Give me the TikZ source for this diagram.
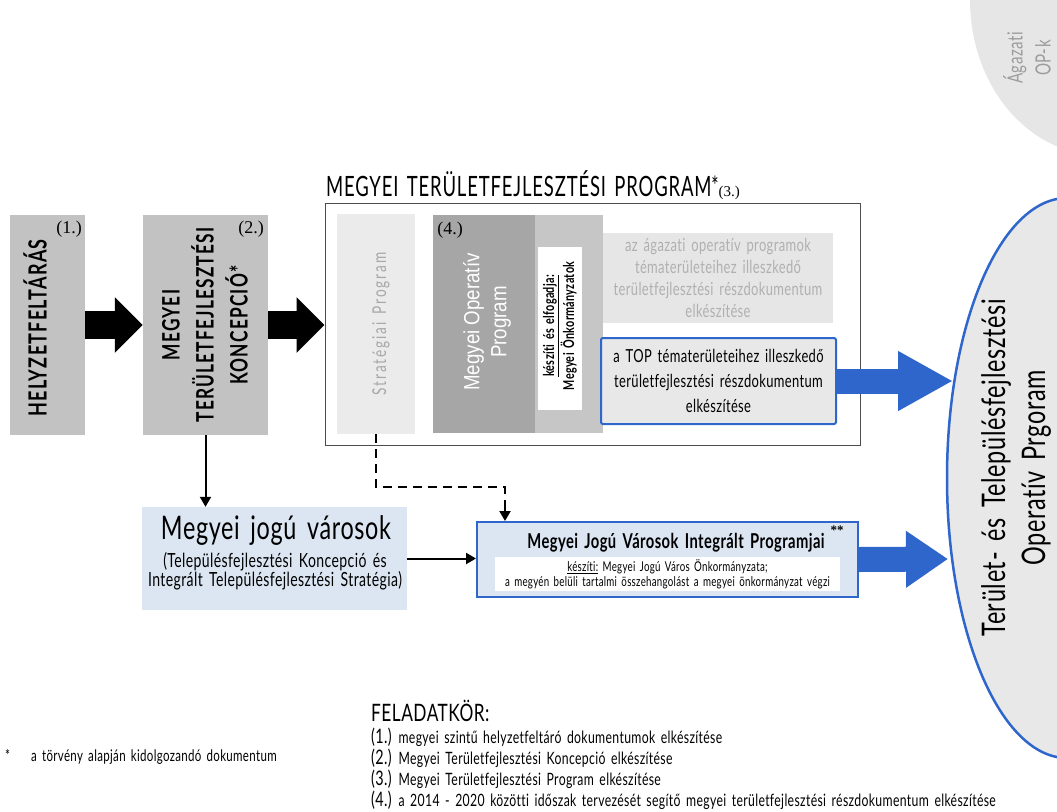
\documentclass[tikz,border=0pt]{standalone}
\usepackage{fontspec}
\usetikzlibrary{arrows.meta,shapes.geometric}
\setmainfont{Liberation Serif}
\newfontfamily\cf[FakeStretch=0.72,LetterSpace=2,WordSpace=1.6,Ligatures=NoCommon]{Lato}
\newfontfamily\cfa[FakeStretch=0.72,LetterSpace=10,WordSpace=1.4,Ligatures=NoCommon]{Lato}
\newfontfamily\cfb[FakeStretch=0.72,LetterSpace=5,Ligatures=NoCommon]{Lato}
\newfontfamily\cft[FakeStretch=0.66,LetterSpace=3,WordSpace=1.5,Ligatures=NoCommon]{Lato}
\newfontfamily\arialn[FakeStretch=0.85]{Liberation Sans}
\definecolor{boxgray}{HTML}{C2C2C2}
\definecolor{stratgray}{HTML}{EBEBEB}
\definecolor{strattext}{HTML}{A8A8A8}
\definecolor{optext}{HTML}{9C9C9C}
\definecolor{mopgray}{HTML}{A6A6A6}
\definecolor{stripgray}{HTML}{C6C6C6}
\definecolor{aggray}{HTML}{E6E6E6}
\definecolor{agtext}{HTML}{B0B0B0}
\definecolor{topfill}{HTML}{E8E8E8}
\definecolor{myblue}{HTML}{2F66CC}
\definecolor{lightblue}{HTML}{DCE6F2}
\definecolor{ellfill}{HTML}{E8E8E8}
\begin{document}
\begin{tikzpicture}[x=1pt,y=-1pt,
  blockarrow/.style={line width=28pt,-{Triangle[length=28pt,width=54pt]}},
  bluearrow/.style={myblue,line width=25pt},
  thinarrow/.style={line width=2pt,-{Triangle[length=10pt,width=11pt]}},
  rtext/.style={rotate=90,align=center,inner sep=0pt},
  listline/.style={anchor=base west,inner sep=0pt,font={\cf\fontsize{17}{19}\selectfont}}
]
\useasboundingbox (0,0) rectangle (1057,811);

% Agazati OP-k shape (top right)
\begin{scope}
\clip (0,0) rectangle (1057,811);
\fill[aggray] (1100,0) ellipse [x radius=130, y radius=155];
\end{scope}
\node[rtext,text=optext,font={\cf\fontsize{21}{28}\selectfont}] (agop) at (1027,58) {Ágazati\\OP-k};

% Box 1
\node[fill=boxgray,inner sep=0pt,minimum width=75pt,minimum height=220pt] (b1) at (47.5,325) {};
\node[rtext,font={\cfb\bfseries\fontsize{25}{34}\selectfont}] (b1t) at (35,328) {HELYZETFELTÁRÁS};
\node[font={\fontsize{18}{20}\selectfont}] (b1n) at (69,229) {(1.)};

% Box 2
\node[fill=boxgray,inner sep=0pt,minimum width=125pt,minimum height=220pt] (b2) at (205.5,325) {};
\node[rtext,font={\cfb\bfseries\fontsize{24}{34}\selectfont}] (b2t) at (205,325) {MEGYEI\\TERÜLETFEJLESZTÉSI\\KONCEPCIÓ*};
\node[font={\fontsize{18}{20}\selectfont}] (b2n) at (251,229) {(2.)};

% Big program box
\node[draw=black!70,line width=1pt,inner sep=0pt,minimum width=535pt,minimum height=242pt] (prog) at (592.5,324) {};
\node[anchor=base west,inner sep=0pt,font={\cft\fontsize{28}{30}\selectfont}] (progt) at (326,196) {MEGYEI TERÜLETFEJLESZTÉSI PROGRAM\raisebox{1pt}{\fontsize{26}{26}\selectfont*}{\rmfamily\fontsize{15}{15}\selectfont(3.)}};

% Strategiai Program
\node[fill=stratgray,inner sep=0pt,minimum width=78pt,minimum height=220pt] (strat) at (376,324) {};
\node[rtext,text=strattext,font={\cfa\fontsize{19}{20}\selectfont}] (stratt) at (381,324) {Stratégiai Program};

% Megyei Operativ Program
\node[fill=mopgray,inner sep=0pt,minimum width=102pt,minimum height=218pt] (mop) at (484,324) {};
\node[rtext,text=white,font={\arialn\fontsize{22}{27}\selectfont}] (mopt) at (487,322) {Megyei Operatív\\Program};
\node[font={\fontsize{18}{20}\selectfont}] (mopn) at (450,230) {(4.)};

% strip with kesziti
\node[fill=stripgray,inner sep=0pt,minimum width=68pt,minimum height=218pt] (strip) at (569,324) {};
\node[fill=white,inner sep=0pt,minimum width=44pt,minimum height=163pt] (kesz) at (560,328.5) {};
\node[rtext,font={\cf\bfseries\fontsize{15}{20}\selectfont}] (keszt) at (560,326) {\underline{készíti és elfogadja:}\\Megyei Önkormányzatok};

% agazati operativ programok box
\node[fill=aggray,inner sep=0pt,minimum width=230pt,minimum height=90pt] (agb) at (718,278) {};
\node[align=center,text=agtext,font={\cf\fontsize{18}{22}\selectfont}] (agbt) at (718,278) {az ágazati operatív programok\\tématerületeihez illeszkedő\\területfejlesztési részdokumentum\\elkészítése};

% TOP box
\node[draw=myblue,line width=2pt,rounded corners=2pt,fill=topfill,inner sep=0pt,minimum width=235pt,minimum height=86pt] (topb) at (718.5,381) {};
\node[align=center,font={\cf\fontsize{18}{25}\selectfont}] (topt) at (718.5,381) {a TOP tématerületeihez illeszkedő\\területfejlesztési részdokumentum\\elkészítése};

% Megyei jogu varosok
\node[fill=lightblue,inner sep=0pt,minimum width=265pt,minimum height=103pt] (mjv) at (274.5,558.5) {};
\node[font={\cf\fontsize{32.5}{34}\selectfont}] (mjvt) at (276,530) {Megyei jogú városok};
\node[align=center,font={\cf\fontsize{19.5}{19}\selectfont}] (mjvs) at (275,571) {(Településfejlesztési Koncepció és\\Integrált Településfejlesztési Stratégia)};

% MJV Integralt Programjai
\node[draw=myblue,line width=2pt,fill=lightblue,inner sep=0pt,minimum width=381pt,minimum height=75pt] (mjvi) at (667.5,559.5) {};
\node[font={\cf\bfseries\fontsize{20.5}{22}\selectfont}] (mjvit) at (676,543) {Megyei Jogú Városok Integrált Programjai};
\node[font={\bfseries\fontsize{13}{13}\selectfont}] (mjvis) at (837,530) {**};
\node[fill=white,inner sep=0pt,minimum width=345pt,minimum height=34pt] (mjviw) at (667.5,574) {};
\node[align=center,font={\cf\fontsize{13.5}{15}\selectfont}] (mjviwt) at (667.5,574.5) {\underline{készíti:} Megyei Jogú Város Önkormányzata;\\a megyén belüli tartalmi összehangolást a megyei önkormányzat végzi};

% big ellipse
\begin{scope}
\clip (0,0) rectangle (1057,811);
\node[ellipse,draw=myblue,line width=2.5pt,fill=ellfill,minimum width=240pt,minimum height=560pt,inner sep=0pt] (top) at (1067,478) {};
\end{scope}
\node[rtext,font={\cf\fontsize{32.5}{40}\selectfont}] (topn) at (1016,468) {Terület- és Településfejlesztési\\Operatív Prgoram};

% block arrows
\draw[blockarrow] (b1.east) -- (b2.west);
\draw[blockarrow] (b2.east) -- (b2.east -| prog.west);

% blue arrows
\coordinate (t1) at (953,381);
\coordinate (t2) at (948,559);
\draw[bluearrow,-{Triangle[length=55pt,width=56pt]}] (topb.east) -- (t1);
\draw[bluearrow,-{Triangle[length=42pt,width=54pt]}] (mjvi.east) -- (t2);

% thin arrows
\draw[thinarrow] (b2.south) -- (b2.south |- mjv.north);
\draw[thinarrow] (mjv.east) -- (mjv.east -| mjvi.west);
\coordinate (dk) at (505,487);
\draw[line width=2.5pt,dash pattern=on 9pt off 6pt] (strat.south) |- (dk) -- ++(0,18);
\draw[thinarrow] (505,503) -- (dk |- mjvi.north);

% footnote
\node[anchor=base west,inner sep=0pt,font={\cf\fontsize{16}{16}\selectfont}] (fn1) at (5,761) {*};
\node[anchor=base west,inner sep=0pt,font={\cf\fontsize{16}{16}\selectfont}] (fn2) at (31,761) {a törvény alapján kidolgozandó dokumentum};

% Feladatkor
\node[anchor=base west,inner sep=0pt,font={\cf\fontsize{24}{24}\selectfont}] (fk) at (371,721) {FELADATKÖR:};
\node[listline] (fk1) at (371,743) {{\fontsize{20}{20}\selectfont(1.)} megyei szintű helyzetfeltáró dokumentumok elkészítése};
\node[listline] (fk2) at (371,764) {{\fontsize{20}{20}\selectfont(2.)} Megyei Területfejlesztési Koncepció elkészítése};
\node[listline] (fk3) at (371,785) {{\fontsize{20}{20}\selectfont(3.)} Megyei Területfejlesztési Program elkészítése};
\node[listline] (fk4) at (371,806) {{\fontsize{20}{20}\selectfont(4.)} a 2014 - 2020 közötti időszak tervezését segítő megyei területfejlesztési részdokumentum elkészítése};
\end{tikzpicture}
\end{document}
